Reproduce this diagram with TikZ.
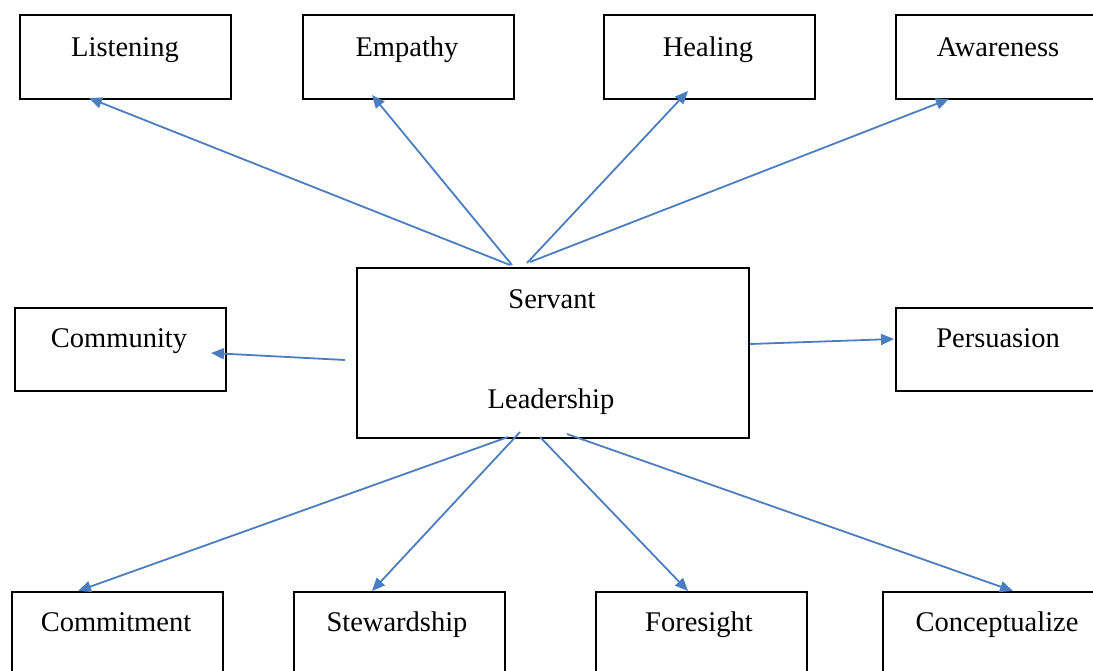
\documentclass[tikz,border=0pt]{standalone}
\usepackage{fontspec}
\setmainfont{Liberation Serif}
\newfontfamily\tnr{Liberation Serif}
\usetikzlibrary{arrows.meta}
\definecolor{arrowblue}{RGB}{74,126,193}
\tikzset{
  box/.style={draw=black, line width=1.8pt, anchor=north west, inner sep=0pt, minimum width=211pt, minimum height=84pt},
  txt/.style={anchor=base, inner sep=0pt, font=\tnr\fontsize{28.5}{34}\selectfont},
  conn/.style={draw=arrowblue, line width=1.8pt, -{Triangle[length=13pt,width=11pt]}}
}
\begin{document}
\begin{tikzpicture}[x=1pt,y=-1pt]
\useasboundingbox (0,0) rectangle (1093,670);
\clip (0,0) rectangle (1093,670);
% top row
\node[box] (listening) at (19,14) {};
\node[box] (empathy) at (302,14) {};
\node[box] (healing) at (603,14) {};
\node[box] (awareness) at (895,14) {};
% middle row
\node[box, minimum height=83pt] (community) at (14,307) {};
\node[box, minimum width=392pt, minimum height=170pt] (servant) at (356,267) {};
\node[box, minimum height=83pt] (persuasion) at (895,307) {};
% bottom row
\node[box] (commitment) at (11,591) {};
\node[box] (stewardship) at (293,591) {};
\node[box] (foresight) at (595,591) {};
\node[box] (conceptualize) at (882,591) {};
% texts
\node[txt] (tListening) at (125,56) {Listening};
\node[txt] (tEmpathy) at (407,56) {Empathy};
\node[txt] (tHealing) at (708,56) {Healing};
\node[txt] (tAwareness) at (998,56) {Awareness};
\node[txt] (tCommunity) at (119,347) {Community};
\node[txt] (tServant) at (552,308) {Servant};
\node[txt] (tLeadership) at (551,408) {Leadership};
\node[txt] (tPersuasion) at (998,347) {Persuasion};
\node[txt] (tCommitment) at (116,631) {Commitment};
\node[txt] (tStewardship) at (397,631) {Stewardship};
\node[txt] (tForesight) at (699,631) {Foresight};
\node[txt] (tConceptualize) at (997,631) {Conceptualize};
% connector end points
\coordinate (sL) at (510,265);
\coordinate (eL) at (89,98);
\coordinate (sE) at (512,265);
\coordinate (eE) at (372,95);
\coordinate (sH) at (527,263);
\coordinate (eH) at (688,91);
\coordinate (sA) at (530,262);
\coordinate (eA) at (949,99);
\coordinate (sCo) at (345,360);
\coordinate (eCo) at (211,353);
\coordinate (sP) at (750,344);
\coordinate (eP) at (894,339);
\coordinate (sCm) at (508,437);
\coordinate (eCm) at (78,591);
\coordinate (sSt) at (520,432);
\coordinate (eSt) at (372,591);
\coordinate (sF) at (540,437);
\coordinate (eF) at (688,591);
\coordinate (sCn) at (567,434);
\coordinate (eCn) at (1013,591);
% connectors
\draw[conn] (sL) -- (eL);
\draw[conn] (sE) -- (eE);
\draw[conn] (sH) -- (eH);
\draw[conn] (sA) -- (eA);
\draw[conn] (sCo) -- (eCo);
\draw[conn] (sP) -- (eP);
\draw[conn] (sCm) -- (eCm);
\draw[conn] (sSt) -- (eSt);
\draw[conn] (sF) -- (eF);
\draw[conn] (sCn) -- (eCn);
\end{tikzpicture}
\end{document}
